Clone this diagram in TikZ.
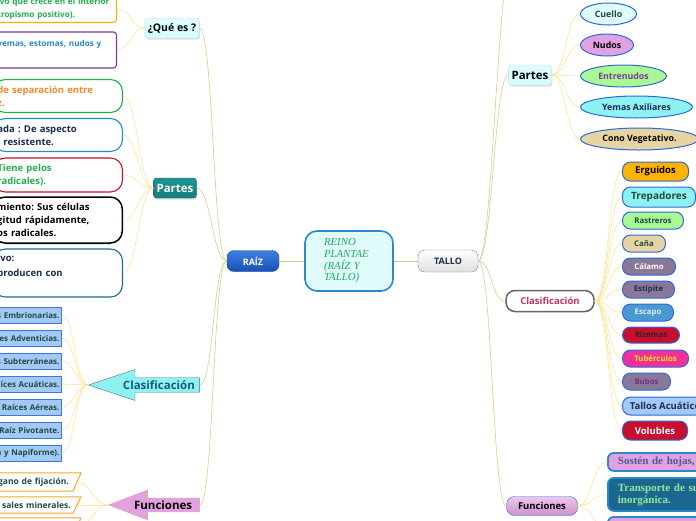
\documentclass[tikz,border=0pt]{standalone}
\usepackage{fontspec}
\setmainfont{Open Sans}
\newfontfamily\serifrm{Liberation Serif}
\frenchspacing
\usepackage{tikz}
\usetikzlibrary{shapes.geometric,shapes.arrows,shadows}
\definecolor{trunkcol}{HTML}{C6CC80}
\definecolor{boughcol}{HTML}{D8D496}
\definecolor{twigcol}{HTML}{FBE496}
\definecolor{coreblue}{HTML}{2D88D0}
\definecolor{corefill}{HTML}{E0FBFB}
\definecolor{coretext}{HTML}{1FAE5A}
\definecolor{raiztop}{HTML}{3E80E2}
\definecolor{raizbot}{HTML}{1A50B6}
\definecolor{tallodraw}{HTML}{6A86AA}
\definecolor{darknavy}{HTML}{1C2C50}
\definecolor{teal}{HTML}{1C9494}
\definecolor{cyanfill}{HTML}{8EF2F2}
\definecolor{clastext}{HTML}{1A5A80}
\definecolor{pinkfill}{HTML}{E2A2E2}
\definecolor{gold}{HTML}{F5B400}
\definecolor{leafgreen}{HTML}{22B04A}
\definecolor{grape}{HTML}{7A3A9A}
\definecolor{skyblue}{HTML}{2A88C8}
\definecolor{carrot}{HTML}{F58A20}
\definecolor{crimson}{HTML}{C8102E}
\definecolor{sea}{HTML}{1A6A9A}
\definecolor{cboxfill}{HTML}{A4C8F8}
\definecolor{cboxdraw}{HTML}{3A78DC}
\definecolor{moss}{HTML}{1C4C3C}
\definecolor{amber}{HTML}{F8A428}
\definecolor{ovaldraw}{HTML}{2A6AE0}
\definecolor{mauve}{HTML}{8A7898}
\definecolor{rose}{HTML}{D03058}
\definecolor{slate}{HTML}{4A5A98}
\definecolor{petrol}{HTML}{1A6890}
\definecolor{mint}{HTML}{98E898}
\definecolor{tan}{HTML}{E8D4A2}
\definecolor{lime}{HTML}{A8F894}

\begin{document}
\begin{tikzpicture}[x=1pt, y=-1pt,
  trunk/.style={draw=trunkcol, line width=0.9pt},
  bough/.style={draw=boughcol, line width=0.7pt},
  twig/.style={draw=twigcol, line width=0.6pt},
  core/.style={draw=coreblue, line width=1.6pt, fill=corefill, rounded corners=12,
               minimum width=88, minimum height=60, text width=50, align=left,
               text=coretext, font=\serifrm\itshape\fontsize{10.8}{11.7}\selectfont},
  raizbox/.style={draw=raizbot!80!black, top color=raiztop, bottom color=raizbot,
                  rounded corners=7, minimum width=52, minimum height=21,
                  text=white, font=\bfseries\fontsize{9}{11}\selectfont},
  tallobox/.style={draw=tallodraw, top color=white, bottom color=gray!25,
                   rounded corners=7, minimum width=60, minimum height=22,
                   text=darknavy, font=\bfseries\fontsize{9}{11}\selectfont},
  topic/.style={draw=cyan!20!gray!40, top color=corefill, bottom color=cyan!18,
                rounded corners=3, inner sep=3, minimum height=20,
                drop shadow={opacity=0.25, shadow xshift=1pt, shadow yshift=-1.5pt},
                font=\bfseries\fontsize{10.5}{13}\selectfont},
  flecha/.style={single arrow, shape border rotate=180, single arrow head extend=6.5,
                 inner sep=1, anchor=tip, font=\bfseries\fontsize{11.5}{13}\selectfont},
  noteq/.style={draw, line width=1.1pt, fill=white, rounded corners=3, inner xsep=3,
                text width=116, align=left, font=\bfseries\fontsize{8.2}{13}\selectfont},
  pill/.style={draw, line width=1.1pt, fill=white, rounded corners=12, inner xsep=4,
               anchor=east, text width=121, align=left,
               font=\bfseries\fontsize{9.5}{13}\selectfont},
  cbox/.style={draw=cboxdraw, line width=1pt, fill=cboxfill, anchor=east,
               minimum height=16, inner sep=2, text width=130, align=right, text=moss,
               font=\bfseries\fontsize{8}{9}\selectfont},
  fbox/.style={anchor=east, minimum height=17, inner sep=2, text width=160, align=right,
               text=moss, font=\bfseries\fontsize{8.5}{10}\selectfont},
  fedge/.style={draw=amber, line width=1pt},
  oval/.style={ellipse, draw=ovaldraw, line width=1pt, inner sep=1, anchor=west,
               minimum height=22, font=\bfseries\fontsize{8.8}{10}\selectfont},
  tag/.style={draw=ovaldraw, line width=1pt, rounded corners=8, anchor=west,
              minimum height=17, inner sep=1, font=\bfseries\fontsize{7.8}{9}\selectfont},
  fnote/.style={draw=skyblue, line width=1.8pt, rounded corners=6, anchor=north west,
                inner xsep=10, text width=230, align=left,
                font=\serifrm\bfseries\fontsize{11}{12}\selectfont},
]
\useasboundingbox (0,0) rectangle (696,520);
\clip (0,0) rectangle (696,520);

% centre
\node[core] (reino) at (349,261) {REINO\\PLANTAE\\(RAÍZ Y\\TALLO)};
\node[raizbox] (raiz) at (253,261) {RAÍZ};
\node[tallobox] (tallo) at (448,261) {TALLO};

% raiz, main topics
\node[topic] (quees) at (172,28) {¿Qué es ?};
\node[topic, draw=teal!70!black, top color=teal, bottom color=teal!85!black, text=white,
      font=\bfseries\fontsize{11.5}{13}\selectfont] (partesraiz) at (175,188) {Partes};
\node[flecha, draw=clastext!50!gray, fill=cyanfill, text=clastext, minimum height=111,
      minimum width=31, single arrow tip angle=37] (clasraiz) at (88,385) {\hspace*{8pt}Clasificación};
\node[flecha, draw=pink!60!brown, fill=pinkfill, minimum height=91,
      minimum width=30, single arrow tip angle=42] (funraiz) at (108,505) {Funciones};

% raiz, ¿que es?
\node[noteq, draw=gold, text=leafgreen, anchor=south east] (que1) at (117,23)
  {ivo que crece en el interior\\tropismo positivo).};
\node[noteq, draw=grape, text=skyblue, anchor=east, minimum height=36] (que2) at (117,50)
  {yemas, estomas, nudos y\\\mbox{}};

% raiz, partes
\node[pill, draw=leafgreen, text=carrot, minimum height=33] (zona) at (123,96)
  {de separación entre\\z.};
\node[pill, draw=skyblue, text=darknavy, minimum height=33] (cofia) at (123,135)
  {ada : De aspecto\\\hspace*{6pt}resistente.};
\node[pill, draw=crimson, text=leafgreen, minimum height=34] (pilifera) at (123,175)
  {Tiene pelos\\radicales).};
\node[pill, draw=black, line width=1.5pt, text=black, minimum height=46,
      drop shadow={opacity=0.3, shadow xshift=0.5pt, shadow yshift=-1.5pt}] (crecim) at (123,220)
  {miento: Sus células\\gitud rápidamente,\\os radicales.};
\node[pill, draw=sea, text=darknavy, minimum height=48,
      font=\bfseries\fontsize{9.5}{15}\selectfont] (meriste) at (123,273)
  {ivo:\\producen con\\\mbox{}};

% raiz, clasificacion
\node[cbox] (embrio) at (62,315) {Raíces Embrionarias.};
\node[cbox] (advent) at (62,338) {Raíces Adventicias.};
\node[cbox] (subter) at (62,361) {Raíces Subterráneas.};
\node[cbox] (acuat) at (62,384) {Raíces Acuáticas.};
\node[cbox] (aereas) at (62,407) {Raíces Aéreas.};
\node[cbox] (pivot) at (62,430) {Raíz Pivotante.};
\node[cbox] (napi) at (62,453) {(Fasciculada y Napiforme).};

% raiz, funciones
\node[fbox, minimum height=18] (fija) at (71,482) {Órgano de fijación.};
\node[fbox, minimum height=16] (absorbe) at (73,505) {Absorber sales minerales.};
\node[fbox, minimum height=18] (fun3) at (73,527) {};
\draw[fedge] (fija.north west) -- ([xshift=10pt]fija.north east) -- ([xshift=2pt]fija.south east) -- (fija.south west);
\draw[fedge] (absorbe.north west) -- ([xshift=8pt]absorbe.north east) -- ([xshift=0pt]absorbe.south east) -- (absorbe.south west);
\draw[fedge] (fun3.north west) -- ([xshift=8pt]fun3.north east) -- ([xshift=0pt]fun3.south east) -- (fun3.south west);

% tallo, main topics
\coordinate (tallo0) at (512,-40);
\node[topic, font=\bfseries\fontsize{11.5}{13}\selectfont] (partestallo) at (530,75) {Partes};
\node[draw=gray!80!black, line width=1.5pt, fill=white, rounded corners=9, minimum width=88,
      minimum height=21, text=rose, font=\bfseries\fontsize{9.5}{11}\selectfont] (clastallo) at (550,301) {Clasificación};
\node[draw=ovaldraw, top color=pinkfill!60, bottom color=pinkfill!90!black, rounded corners=8,
      minimum width=71, minimum height=19, font=\bfseries\fontsize{9.5}{11}\selectfont] (funtallo) at (542,506) {Funciones};

% tallo, partes
\node[oval, fill=corefill, text=moss, minimum width=56] (cuello) at (580,14) {Cuello};
\node[oval, fill=pinkfill, text=black, minimum width=53] (nudos) at (580,45) {Nudos};
\node[oval, fill=lime, text=grape, minimum width=86] (entrenudos) at (580,76) {Entrenudos};
\node[oval, fill=cyanfill, text=darknavy, minimum width=112] (yemas) at (580,107) {Yemas Axiliares};
\node[oval, fill=tan, text=black, minimum width=118] (cono) at (580,139) {Cono Vegetativo.};

% tallo, clasificacion
\node[tag, fill=orange!60!yellow, text=black, minimum width=66, minimum height=19,
      font=\bfseries\fontsize{9.5}{11}\selectfont] (erguidos) at (622,171.5) {Erguidos};
\node[tag, fill=cyanfill, text=moss, minimum width=73, minimum height=20,
      font=\bfseries\fontsize{10}{12}\selectfont] (trepa) at (622,197) {Trepadores};
\node[tag, fill=lime, text=moss, minimum width=61] (rastre) at (622,220.5) {Rastreros};
\node[tag, fill=tan, text=moss, minimum width=43] (cana) at (622,243.5) {Caña};
\node[tag, fill=mauve, text=white, minimum width=53] (calamo) at (622,266.5) {Cálamo};
\node[tag, fill=mauve, text=darknavy, minimum width=52] (estipite) at (622,289.5) {Estípite};
\node[tag, fill=skyblue!85, text=blue!10, minimum width=51] (escapo) at (622,312.5) {Escapo};
\node[tag, fill=crimson, text=black!85, minimum width=57, minimum height=16] (rizomas) at (622,335) {Rizomas};
\node[tag, fill=magenta!75!pink, text=yellow!90!orange, minimum width=66] (tuber) at (622,358.5) {Tubérculos};
\node[tag, fill=mauve, text=grape!90!black, minimum width=48] (bubos) at (622,381.5) {Bubos};
\node[tag, fill=cboxfill, text=darknavy, minimum width=90, minimum height=18,
      font=\bfseries\fontsize{9.5}{11}\selectfont] (tallacua) at (622,406) {Tallos Acuáticos};
\node[tag, fill=crimson, text=white, minimum width=65, minimum height=19,
      font=\bfseries\fontsize{9.5}{11}\selectfont] (volubles) at (622,430.5) {Volubles};

% tallo, funciones
\node[fnote, fill=pinkfill, text=slate, minimum height=18] (sosten) at (607,452) {Sostén de hojas, flores y frutos.};
\node[fnote, fill=petrol, text=mint, minimum height=33] (transp) at (607,477) {Transporte de sustancias orgánica e\\inorgánica.};
\node[fnote, fill=pinkfill, minimum height=20] (fun3tallo) at (607,516) {};

% connectors
\draw[trunk] (reino) -- (raiz); \draw[trunk] (reino) -- (tallo);

\draw[bough] (raiz.west) .. controls +(-14,0) and +(14,0) .. (quees.east);
\draw[bough] (raiz.west) .. controls +(-14,0) and +(14,0) .. (partesraiz.east);
\draw[bough] (raiz.west) .. controls +(-14,0) and +(14,0) .. (clasraiz.tail);
\draw[bough] (raiz.west) .. controls +(-14,0) and +(14,0) .. (funraiz.tail);
\draw[bough] (tallo.east) .. controls +(14,0) and +(-14,0) .. (tallo0);
\draw[bough] (tallo.east) .. controls +(14,0) and +(-14,0) .. (partestallo.west);
\draw[bough] (tallo.east) .. controls +(14,0) and +(-14,0) .. (clastallo.west);
\draw[bough] (tallo.east) .. controls +(14,0) and +(-14,0) .. (funtallo.west);

\draw[twig] (quees.west) .. controls +(-14,0) and +(14,0) .. (que1.east);
\draw[twig] (quees.west) .. controls +(-14,0) and +(14,0) .. (que2.east);

\draw[twig] (partesraiz.west) .. controls +(-14,0) and +(14,0) .. (zona.east);
\draw[twig] (partesraiz.west) .. controls +(-14,0) and +(14,0) .. (cofia.east);
\draw[twig] (partesraiz.west) .. controls +(-14,0) and +(14,0) .. (pilifera.east);
\draw[twig] (partesraiz.west) .. controls +(-14,0) and +(14,0) .. (crecim.east);
\draw[twig] (partesraiz.west) .. controls +(-14,0) and +(14,0) .. (meriste.east);

\draw[twig] (clasraiz.tip) .. controls +(-13,0) and +(13,0) .. (embrio.east);
\draw[twig] (clasraiz.tip) .. controls +(-13,0) and +(13,0) .. (advent.east);
\draw[twig] (clasraiz.tip) .. controls +(-13,0) and +(13,0) .. (subter.east);
\draw[twig] (clasraiz.tip) -- (acuat.east);
\draw[twig] (clasraiz.tip) .. controls +(-13,0) and +(13,0) .. (aereas.east);
\draw[twig] (clasraiz.tip) .. controls +(-13,0) and +(13,0) .. (pivot.east);
\draw[twig] (clasraiz.tip) .. controls +(-13,0) and +(13,0) .. (napi.east);

\draw[twig] (funraiz.tip) .. controls +(-14,0) and +(14,0) .. ([xshift=6pt]fija.east);
\draw[twig] (funraiz.tip) -- ([xshift=4pt]absorbe.east);
\draw[twig] (funraiz.tip) .. controls +(-14,0) and +(14,0) .. ([xshift=4pt]fun3.east);

\draw[twig] (partestallo.east) .. controls +(14,0) and +(-14,0) .. (cuello.west);
\draw[twig] (partestallo.east) .. controls +(14,0) and +(-14,0) .. (nudos.west);
\draw[twig] (partestallo.east) .. controls +(14,0) and +(-14,0) .. (entrenudos.west);
\draw[twig] (partestallo.east) .. controls +(14,0) and +(-14,0) .. (yemas.west);
\draw[twig] (partestallo.east) .. controls +(14,0) and +(-14,0) .. (cono.west);

\draw[twig] (clastallo.east) .. controls +(14,0) and +(-14,0) .. (erguidos.west);
\draw[twig] (clastallo.east) .. controls +(14,0) and +(-14,0) .. (trepa.west);
\draw[twig] (clastallo.east) .. controls +(14,0) and +(-14,0) .. (rastre.west);
\draw[twig] (clastallo.east) .. controls +(14,0) and +(-14,0) .. (cana.west);
\draw[twig] (clastallo.east) .. controls +(14,0) and +(-14,0) .. (calamo.west);
\draw[twig] (clastallo.east) .. controls +(14,0) and +(-14,0) .. (estipite.west);
\draw[twig] (clastallo.east) .. controls +(14,0) and +(-14,0) .. (escapo.west);
\draw[twig] (clastallo.east) .. controls +(14,0) and +(-14,0) .. (rizomas.west);
\draw[twig] (clastallo.east) .. controls +(14,0) and +(-14,0) .. (tuber.west);
\draw[twig] (clastallo.east) .. controls +(14,0) and +(-14,0) .. (bubos.west);
\draw[twig] (clastallo.east) .. controls +(14,0) and +(-14,0) .. (tallacua.west);
\draw[twig] (clastallo.east) .. controls +(14,0) and +(-14,0) .. (volubles.west);

\draw[twig] (funtallo.east) .. controls +(14,0) and +(-14,0) .. (sosten.west);
\draw[twig] (funtallo.east) .. controls +(14,0) and +(-14,0) .. (transp.west);
\draw[twig] (funtallo.east) .. controls +(14,0) and +(-14,0) .. (fun3tallo.west);
\end{tikzpicture}
\end{document}
